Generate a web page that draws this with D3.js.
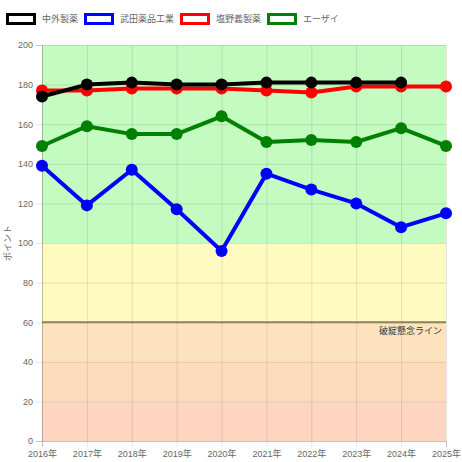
<!DOCTYPE html>
<html>
<head>
<meta charset="utf-8">
<script src="https://cdn.jsdelivr.net/npm/d3@7"></script>
<style>
  body { margin: 0; background: #fff; }
  svg { font-family: "Liberation Sans", Arial, "Noto Sans CJK JP", sans-serif; }
</style>
</head>
<body>
<svg width="462" height="462"></svg>
<script>
var years = ["2016年", "2017年", "2018年", "2019年", "2020年", "2021年", "2022年", "2023年", "2024年", "2025年"];
var seriesNames = ["中外製薬", "武田薬品工業", "塩野義製薬", "エーザイ"];
var seriesColors = ["#000000", "#0000ff", "#ff0000", "#008000"];
var chugai = [174, 180, 181, 180, 180, 181, 181, 181, 181, null];
var takeda = [139, 119, 137, 117, 96, 135, 127, 120, 108, 115];
var shionogi = [177, 177, 178, 178, 178, 177, 176, 179, 179, 179];
var eisai = [149, 159, 155, 155, 164, 151, 152, 151, 158, 149];
var yTicks = [0, 20, 40, 60, 80, 100, 120, 140, 160, 180, 200];
var bands = [
  {from: 100, to: 200, color: "#c3fbc1"},
  {from: 60, to: 100, color: "#fffac0"},
  {from: 40, to: 60, color: "#fde3bd"},
  {from: 20, to: 40, color: "#fddcbd"},
  {from: 0, to: 20, color: "#fed5c0"}
];
var dangerLine = 60, dangerLabel = "破綻懸念ライン";

var fontSize = 9;
var svg = d3.select("svg"),
    margin = {top: 45, right: 16, bottom: 21, left: 42},
    width = 462 - margin.left - margin.right,
    height = 462 - margin.top - margin.bottom,
    g = svg.append("g").attr("transform", "translate(" + margin.left + "," + margin.top + ")");

var x = d3.scalePoint().domain(years).range([0, width]);
var y = d3.scaleLinear().domain([0, 200]).range([height, 0]);

// background bands
g.append("g").selectAll("rect")
  .data(bands)
  .enter().append("rect")
    .attr("x", 0)
    .attr("width", width)
    .attr("y", function(d) { return y(d.to); })
    .attr("height", function(d) { return y(d.from) - y(d.to); })
    .attr("fill", function(d) { return d.color; });

// grid
g.append("g")
    .call(d3.axisLeft(y).tickValues(yTicks).tickSize(-width).tickFormat(""))
    .call(function(s) { s.select(".domain").remove(); s.selectAll("line").attr("stroke", "rgba(0,0,0,0.1)"); });
g.append("g")
    .attr("transform", "translate(0," + height + ")")
    .call(d3.axisBottom(x).tickSize(-height).tickFormat(""))
    .call(function(s) { s.select(".domain").remove(); s.selectAll("line").attr("stroke", "rgba(0,0,0,0.1)"); });

// axes
var yAxis = g.append("g")
    .call(d3.axisLeft(y).tickValues(yTicks).tickSize(6).tickPadding(3));
yAxis.select(".domain").attr("stroke", "rgba(0,0,0,0.15)");
yAxis.selectAll("line").attr("stroke", "rgba(0,0,0,0.1)");
yAxis.selectAll("text").attr("fill", "#666").attr("font-size", fontSize);

var xAxis = g.append("g")
    .attr("transform", "translate(0," + height + ")")
    .call(d3.axisBottom(x).tickSize(6).tickPadding(4));
xAxis.select(".domain").attr("stroke", "rgba(0,0,0,0.15)");
xAxis.selectAll("line").attr("stroke", "rgba(0,0,0,0.1)");
xAxis.selectAll("text").attr("fill", "#666").attr("font-size", fontSize);
svg.selectAll(".tick text").attr("font-family", "\"Liberation Sans\", Arial, \"Noto Sans CJK JP\", sans-serif");

svg.append("text")
    .attr("transform", "translate(11," + (margin.top + height / 2) + ") rotate(-90)")
    .attr("text-anchor", "middle")
    .attr("fill", "#666")
    .attr("font-size", fontSize)
    .text("ポイント");

// danger line
g.append("line")
    .attr("x1", 0).attr("x2", width)
    .attr("y1", y(dangerLine)).attr("y2", y(dangerLine))
    .attr("stroke", "#8e7f5f")
    .attr("stroke-width", 2);
g.append("text")
    .attr("x", width - 4)
    .attr("y", y(dangerLine) + 12)
    .attr("text-anchor", "end")
    .attr("fill", "#333")
    .attr("font-size", fontSize)
    .text(dangerLabel);

// series, drawn last-first so the first dataset sits on top
var series = [chugai, takeda, shionogi, eisai].map(function(v, i) {
  return {name: seriesNames[i], color: seriesColors[i], values: v};
});

var line = d3.line()
    .defined(function(d) { return d != null; })
    .x(function(d, i) { return x(years[i]); })
    .y(function(d) { return y(d); });

var lines = g.append("g").selectAll("g")
  .data(series.slice().reverse())
  .enter().append("g");

lines.append("path")
    .attr("fill", "none")
    .attr("stroke", function(d) { return d.color; })
    .attr("stroke-width", 4)
    .attr("stroke-linejoin", "round")
    .attr("d", function(d) { return line(d.values); });

lines.selectAll("circle")
  .data(function(d) { return d.values.map(function(v, i) { return {v: v, i: i, color: d.color}; }).filter(function(p) { return p.v != null; }); })
  .enter().append("circle")
    .attr("cx", function(p) { return x(years[p.i]); })
    .attr("cy", function(p) { return y(p.v); })
    .attr("r", 6)
    .attr("fill", function(p) { return p.color; });

// legend
var legendX = [6, 84, 180, 267];
var legend = svg.append("g").selectAll("g")
  .data(series)
  .enter().append("g")
    .attr("transform", function(d, i) { return "translate(" + legendX[i] + ",13)"; });

legend.append("rect")
    .attr("x", 1.5).attr("y", 1.5)
    .attr("width", 27).attr("height", 9)
    .attr("fill", "#fff")
    .attr("stroke", function(d) { return d.color; })
    .attr("stroke-width", 3);

legend.append("text")
    .attr("x", 36)
    .attr("y", 6)
    .attr("dy", "0.35em")
    .attr("fill", "#666")
    .attr("font-size", fontSize)
    .text(function(d) { return d.name; });
</script>
</body>
</html>
